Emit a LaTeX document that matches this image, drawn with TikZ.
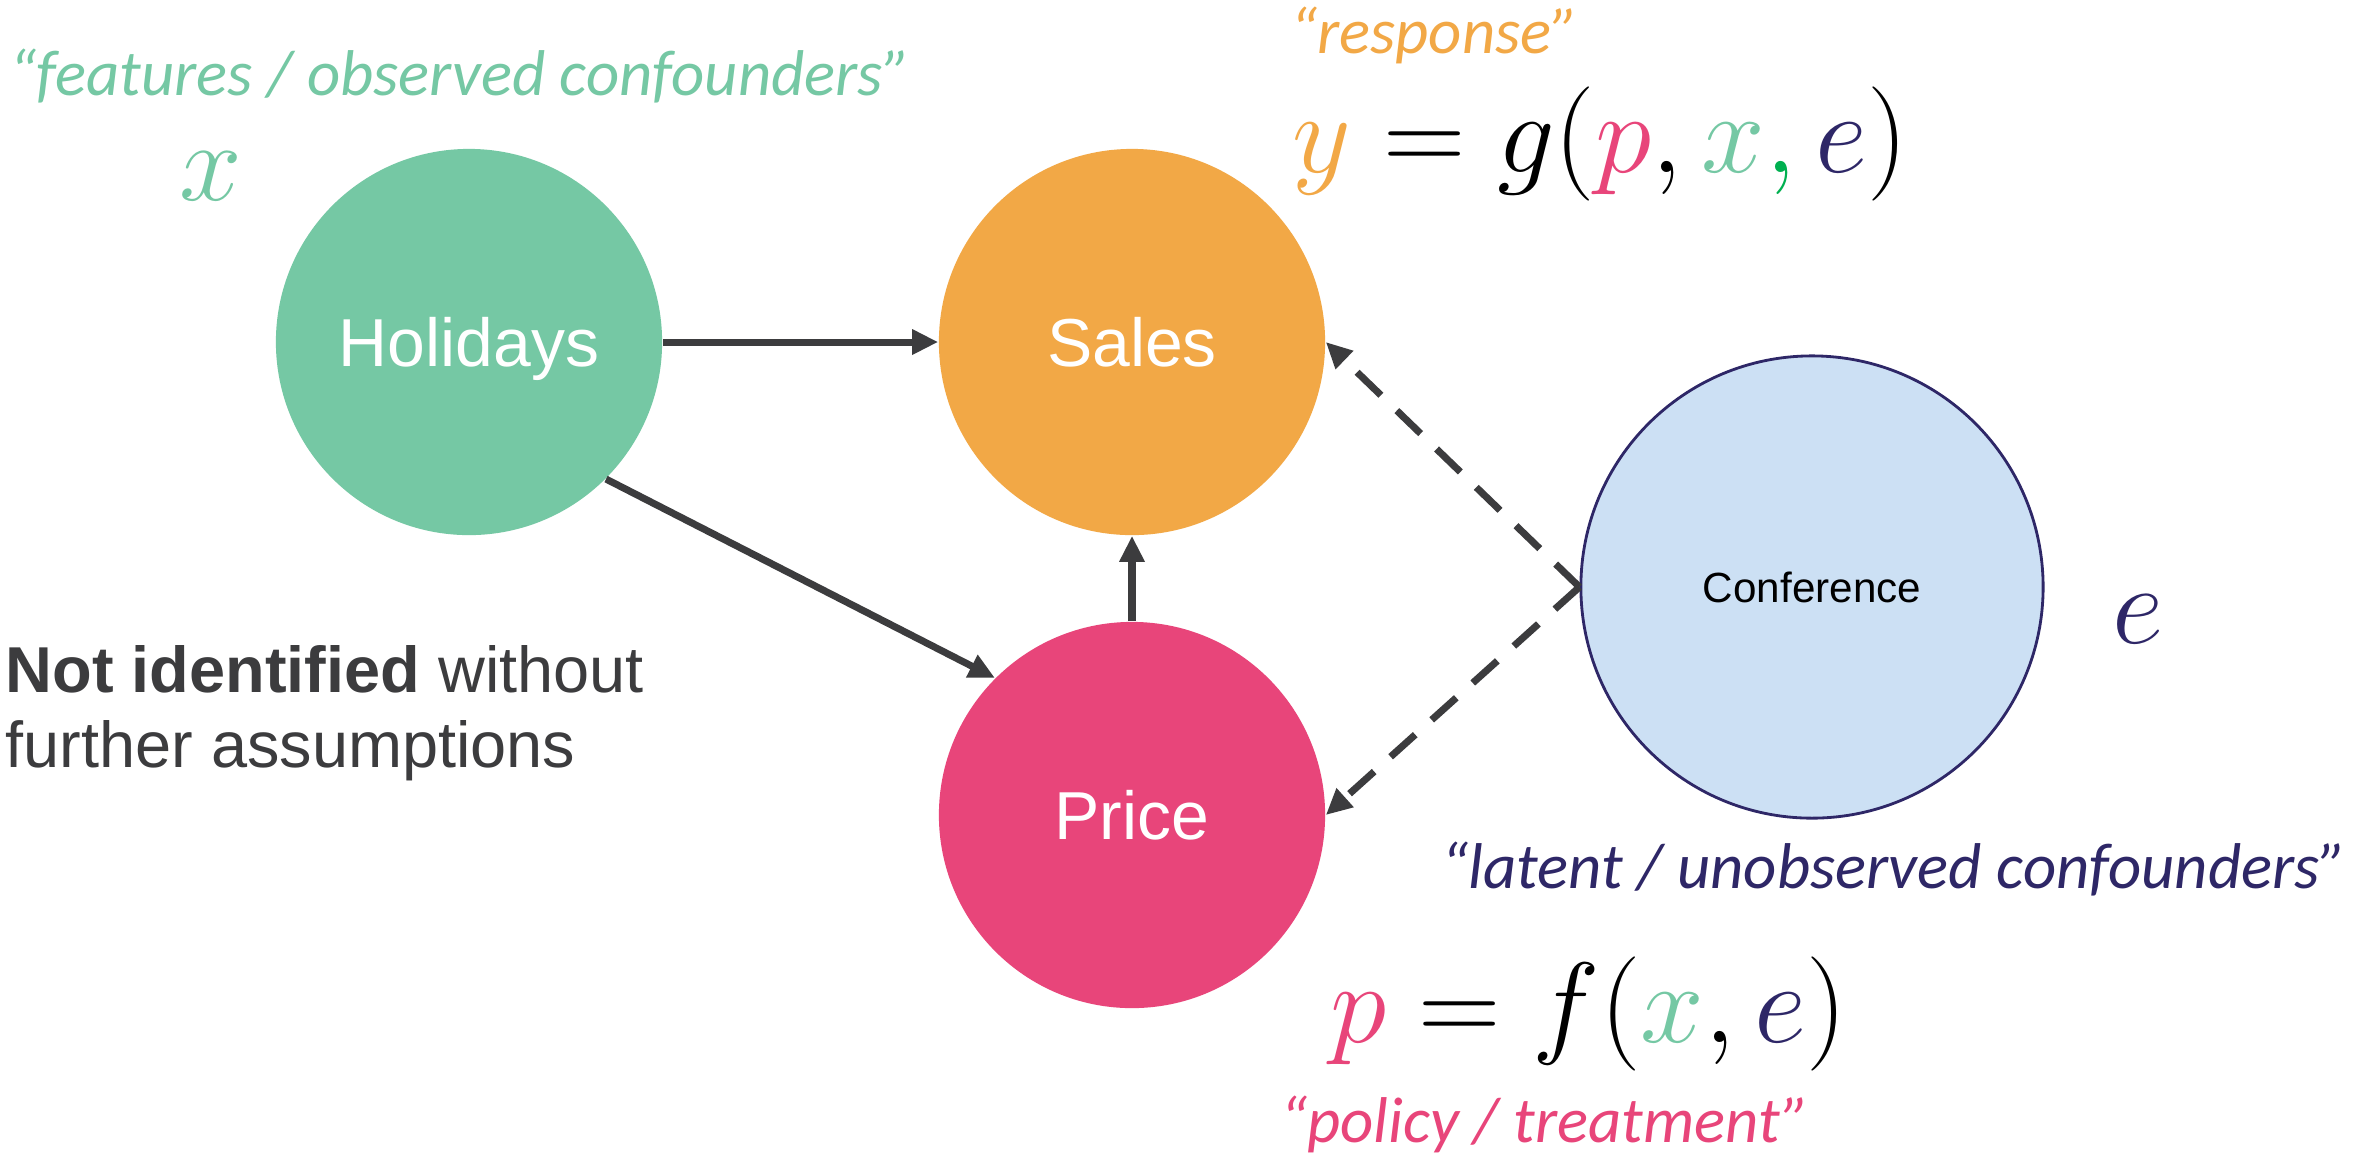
\RequirePackage{fix-cm}
\documentclass[tikz,border=0pt]{standalone}
\usepackage{fontspec}
\setmainfont{Liberation Sans}
\newfontfamily\quotefont{Carlito}
\usetikzlibrary{arrows.meta}

\definecolor{cgreen}{RGB}{117,200,164}
\definecolor{corange}{RGB}{242,168,70}
\definecolor{cpink}{RGB}{232,69,122}
\definecolor{cblue}{RGB}{204,224,244}
\definecolor{cnavy}{RGB}{46,39,103}
\definecolor{cgray}{RGB}{60,60,62}
\definecolor{cbright}{RGB}{0,176,80}

\begin{document}
\begin{tikzpicture}[x=0.01cm, y=-0.01cm,
  varnode/.style={circle, inner sep=0pt, minimum size=3.86cm, text=white,
    text height=14.1pt, text depth=0pt, font=\fontsize{19.3}{23}\selectfont},
  latentnode/.style={circle, inner sep=0pt, minimum size=4.62cm, fill=cblue,
    draw=cnavy, line width=0.8pt, font=\fontsize{12}{14}\selectfont},
  solidarrow/.style={draw=cgray, line width=2pt, -{Triangle[length=7.4pt,width=6.8pt]}},
  dasharrow/.style={draw=cgray, line width=2pt, dash pattern=on 9.4pt off 6.3pt,
    -{Triangle[length=7.4pt,width=6.8pt]}},
  quotelabel/.style={anchor=base west, inner sep=0pt,
    font=\quotefont\itshape\fontsize{18.4}{22}\selectfont},
  eqlabel/.style={anchor=base west, inner sep=0pt, font=\fontsize{32.5}{38}\selectfont},
  symlabel/.style={anchor=base, inner sep=0pt, font=\fontsize{32}{38}\selectfont},
  note/.style={anchor=base west, inner sep=0pt, text=cgray,
    font=\fontsize{18.45}{21}\selectfont}]

\fill[white] (0,0) rectangle (2363,1159);
\useasboundingbox (0,0) rectangle (2363,1159);

% variables of the causal graph
\node[varnode, fill=cgreen]  (hol)   at (469,342) {Holidays};
\node[varnode, fill=corange] (sales) at (1132,342) {Sales};
\node[varnode, fill=cpink]   (price) at (1132,815) {Price};
\node[latentnode]            (conf)  at (1812,587) {Conference};

% observed causal links
\draw[solidarrow] (hol) -- (sales);
\draw[solidarrow] (hol.-45) -- (price.135);
\draw[solidarrow] (price) -- (sales);

% links from the unobserved confounder
\draw[dasharrow] (conf.west) -- (sales.east);
\draw[dasharrow] (conf.west) -- (price.east);

% annotations
\node[quotelabel, text=cgreen] (featlbl) at (9,95) {“features / observed confounders”};
\node[symlabel, text=cgreen] (xsym) at (211,200) {$x$};

\node[quotelabel, text=corange] (resplbl) at (1290,53) {“response”};
\node[eqlabel] (yeq) at (1292,172)
  {${\color{corange}y} = g({\color{cpink}p}, {\color{cgreen}x}\mathpunct{\color{cbright},} {\color{cnavy}e})$};

\node[eqlabel] (peq) at (1330,1042)
  {${\color{cpink}p} = f({\color{cgreen}x}, {\color{cnavy}e})$};
\node[quotelabel, text=cpink] (pollbl) at (1280,1142) {“policy / treatment”};

\node[quotelabel, text=cnavy] (latlbl) at (1441,888) {“latent / unobserved confounders”};
\node[symlabel, text=cnavy] (esym) at (2138,643) {$e$};

\node[note] (note1) at (5,692) {\textbf{Not identified} without};
\node[note] (note2) at (5,767) {further assumptions};

\end{tikzpicture}
\end{document}
